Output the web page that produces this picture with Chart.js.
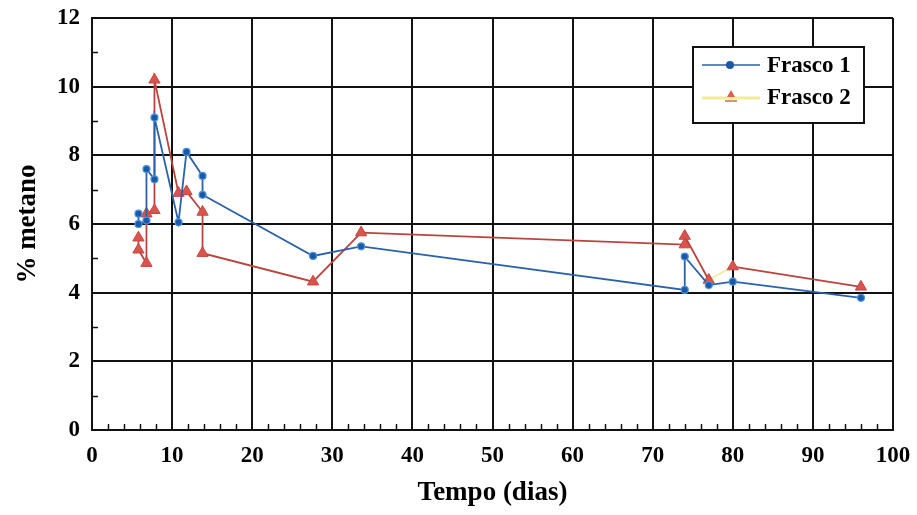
<!DOCTYPE html>
<html>
<head>
<meta charset="utf-8">
<script src="https://cdn.jsdelivr.net/npm/chart.js@4.4.1/dist/chart.umd.min.js"></script>
<style>
  html, body { margin: 0; padding: 0; background: #fff; }
  #chart { display: block; }
</style>
</head>
<body>
<canvas id="chart" width="917" height="515"></canvas>
<script>
// Tempo (dias) and % metano
const dias = [5.8, 5.8, 6.8, 6.8, 7.8, 7.8, 10.8, 11.8, 13.8, 13.8, 27.6, 33.6, 74, 74, 77, 80, 96];
const frasco1 = [6.3, 6.0, 6.1, 7.6, 7.3, 9.1, 6.05, 8.1, 7.4, 6.85, 5.07, 5.35, 4.08, 5.05, 4.22, 4.32, 3.85];
const frasco2 = [5.6, 5.25, 4.86, 6.3, 6.4, 10.2, 6.9, 6.95, 6.35, 5.15, 4.32, 5.75, 5.4, 5.65, 4.37, 4.76, 4.17];
const seriesNames = ['Frasco 1', 'Frasco 2'];
const xTicks = { min: 0, max: 100, step: 10, minor: 2 };
const yTicks = { min: 0, max: 12, step: 2, minor: 1 };

const FONT = "'Liberation Serif', 'DejaVu Serif', serif";
const BLUE = '#2a62a8';
const RED = '#b9433d';
const YELLOW = '#f2eb9a';

function points(ys) {
    return dias.map((d, i) => ({ x: d, y: ys[i] }));
}

// minor ticks drawn inside the plot, like the original
const minorTicks = {
    id: 'minorTicks',
    afterDraw(chart) {
        const { ctx, chartArea: a, scales: { x, y } } = chart;
        ctx.save();
        ctx.strokeStyle = '#111';
        ctx.lineWidth = 1.5;
        ctx.beginPath();
        for (let v = xTicks.min + xTicks.minor; v < xTicks.max; v += xTicks.minor) {
            if (v % xTicks.step === 0) continue;
            const px = Math.round(x.getPixelForValue(v)) + 0.5;
            ctx.moveTo(px, a.bottom);
            ctx.lineTo(px, a.bottom - 6);
        }
        for (let v = yTicks.min + yTicks.minor; v < yTicks.max; v += yTicks.minor) {
            if (v % yTicks.step === 0) continue;
            const py = Math.round(y.getPixelForValue(v)) + 0.5;
            ctx.moveTo(a.left, py);
            ctx.lineTo(a.left + 6, py);
        }
        ctx.stroke();
        ctx.restore();
    }
};

// boxed legend in the upper right
const boxLegend = {
    id: 'boxLegend',
    afterDraw(chart) {
        const ctx = chart.ctx;
        const bx = 693, by = 47, bw = 171, bh = 76;
        ctx.save();
        ctx.fillStyle = '#fff';
        ctx.fillRect(bx, by, bw, bh);
        ctx.strokeStyle = '#111';
        ctx.lineWidth = 2;
        ctx.strokeRect(bx, by, bw, bh);

        // Frasco 1
        ctx.strokeStyle = BLUE;
        ctx.lineWidth = 1.5;
        ctx.beginPath();
        ctx.moveTo(702, 65);
        ctx.lineTo(760, 65);
        ctx.stroke();
        ctx.fillStyle = '#1d58a6';
        ctx.beginPath();
        ctx.arc(730, 65, 4, 0, Math.PI * 2);
        ctx.fill();

        // Frasco 2
        ctx.strokeStyle = YELLOW;
        ctx.lineWidth = 3;
        ctx.beginPath();
        ctx.moveTo(702, 98);
        ctx.lineTo(760, 98);
        ctx.stroke();
        ctx.fillStyle = '#d9614f';
        ctx.beginPath();
        ctx.moveTo(731, 90);
        ctx.lineTo(735, 97);
        ctx.lineTo(727, 97);
        ctx.closePath();
        ctx.fill();
        ctx.strokeStyle = '#c8703f';
        ctx.lineWidth = 1.5;
        ctx.beginPath();
        ctx.moveTo(725, 101);
        ctx.lineTo(737, 101);
        ctx.stroke();

        ctx.fillStyle = '#000';
        ctx.font = 'bold 23px ' + FONT;
        ctx.textBaseline = 'middle';
        ctx.fillText(seriesNames[0], 767, 66);
        ctx.fillText(seriesNames[1], 767, 98);
        ctx.restore();
    }
};

new Chart(document.getElementById('chart'), {
    type: 'scatter',
    data: {
        datasets: [{
            label: seriesNames[0],
            data: points(frasco1),
            showLine: true,
            borderColor: BLUE,
            borderWidth: 1.8,
            pointRadius: 3.5,
            pointBackgroundColor: '#1d58a6',
            pointBorderColor: '#4b93e0',
            pointBorderWidth: 1.2,
            order: 1
        }, {
            label: seriesNames[1],
            data: points(frasco2),
            showLine: true,
            borderColor: RED,
            borderWidth: 1.8,
            segment: {
                borderColor: c => (c.p0DataIndex === 14 ? YELLOW : RED)
            },
            pointStyle: 'triangle',
            pointRadius: 6.5,
            pointBackgroundColor: '#d9534f',
            pointBorderColor: '#c8463f',
            pointBorderWidth: 1,
            order: 2
        }]
    },
    options: {
        responsive: false,
        animation: false,
        layout: { padding: { left: 8, right: 24, top: 18, bottom: 2 } },
        plugins: {
            legend: { display: false },
            tooltip: { enabled: false }
        },
        scales: {
            x: {
                type: 'linear',
                min: xTicks.min,
                max: xTicks.max,
                afterFit: s => {
                    s.height = 83;
                    s.paddingLeft = 0;
                    s.paddingRight = 0;
                },
                ticks: {
                    stepSize: xTicks.step,
                    color: '#000',
                    padding: 12,
                    maxRotation: 0,
                    font: { family: FONT, size: 23, weight: 'bold' }
                },
                grid: { color: '#111', lineWidth: 2, drawTicks: false },
                border: { color: '#111', width: 2 },
                title: {
                    display: true,
                    text: 'Tempo (dias)',
                    color: '#000',
                    padding: { top: 18 },
                    font: { family: FONT, size: 27, weight: 'bold' }
                }
            },
            y: {
                min: yTicks.min,
                max: yTicks.max,
                afterFit: s => {
                    s.width = 84;
                    s.paddingTop = 0;
                    s.paddingBottom = 0;
                },
                ticks: {
                    stepSize: yTicks.step,
                    color: '#000',
                    padding: 12,
                    font: { family: FONT, size: 23, weight: 'bold' }
                },
                grid: { color: '#111', lineWidth: 2, drawTicks: false },
                border: { color: '#111', width: 2 },
                title: {
                    display: true,
                    text: '% metano',
                    color: '#000',
                    padding: { bottom: 4 },
                    font: { family: FONT, size: 27, weight: 'bold' }
                }
            }
        }
    },
    plugins: [minorTicks, boxLegend]
});
</script>
</body>
</html>
